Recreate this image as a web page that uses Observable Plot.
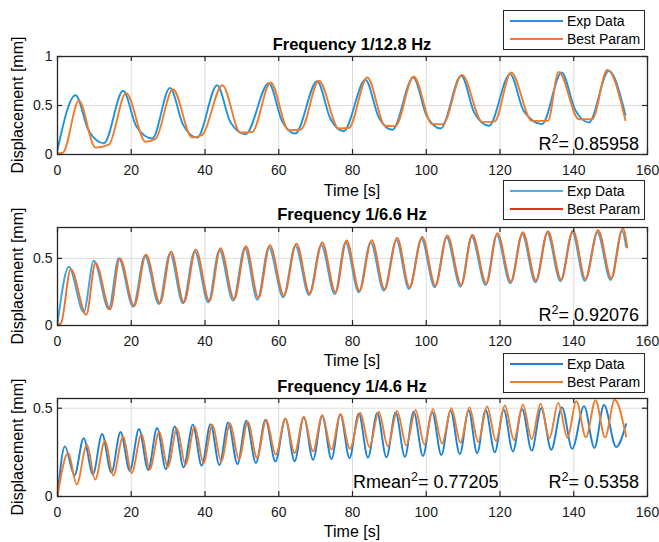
<!DOCTYPE html>
<html><head><meta charset="utf-8">
<script src="https://cdn.jsdelivr.net/npm/d3@7"></script>
<script src="https://cdn.jsdelivr.net/npm/@observablehq/plot@0.6"></script>
<style>
body{margin:0;background:#fff;}
#root{position:relative;width:659px;height:542px;overflow:hidden;background:#fff;font-family:"Liberation Sans",Arial,sans-serif;color:#000}
#root svg{position:absolute;left:0;overflow:visible}
.abs{position:absolute;white-space:nowrap}
.title{font-weight:bold;font-size:16.5px;line-height:16px;transform:translateX(-50%)}
.xl{font-size:16px;line-height:16px;transform:translateX(-50%)}
.yl{font-size:16px;line-height:16px;transform:translate(-50%,-50%) rotate(-90deg)}
.r2{font-size:18px;line-height:18px}
.r2 sup{font-size:12.5px;line-height:0;vertical-align:7px}
.leg{border:1px solid #262626;background:#fff;box-sizing:border-box}
.legtxt{font-size:14px;line-height:14px}
</style></head>
<body><div id="root"></div>
<script>
// ---------- data ----------
const xTicks = [0, 20, 40, 60, 80, 100, 120, 140, 160];
const yTicks1 = [0, 0.5, 1];
const yTicks2 = [0, 0.5];
const yTicks3 = [0, 0.5];
const titles = ["Frequency 1/12.8 Hz", "Frequency 1/6.6 Hz", "Frequency 1/4.6 Hz"];
const seriesNames = ["Exp Data", "Best Param"];
const r2Labels = ["0.85958", "0.92076", "0.5358"];
const rmeanLabel = "0.77205";

// Panel 1 (1/12.8 Hz): turning points and knees
const p1ExpT = [0, 4.9, 8.5, 12.6, 17.8, 21.4, 25.7, 30.5, 34.1, 37.9, 43.3, 46.9, 51, 57.3, 60.9, 64.5, 70.4, 74.0, 77.6, 83.5, 87.1, 90.8, 96.5, 100.1, 103.9, 109.5, 113.1, 117, 122.7, 126.5, 131.4, 136.7, 140.4, 144.1, 149.5, 154];
const p1ExpV = [0.05, 0.605, 0.24, 0.115, 0.65, 0.285, 0.163, 0.68, 0.3, 0.173, 0.707, 0.33, 0.207, 0.727, 0.34, 0.214, 0.748, 0.365, 0.238, 0.762, 0.38, 0.252, 0.786, 0.395, 0.265, 0.803, 0.42, 0.293, 0.82, 0.44, 0.31, 0.837, 0.455, 0.327, 0.854, 0.405];
const p1FitT = [0, 1.5, 5.8, 10.3, 13.9, 18.6, 23.9, 26.6, 31.3, 36.5, 39.2, 44.7, 49.6, 52.8, 57.8, 62.7, 66, 70.9, 76.3, 79, 84, 88.9, 91.6, 96.6, 101.6, 104.5, 109.7, 115.2, 118.5, 123, 128.7, 133, 135.9, 141.4, 145, 149.1, 154];
const p1FitV = [0.01, 0.02, 0.548, 0.07, 0.1, 0.626, 0.13, 0.16, 0.666, 0.173, 0.197, 0.707, 0.224, 0.23, 0.735, 0.248, 0.255, 0.752, 0.265, 0.27, 0.786, 0.293, 0.29, 0.796, 0.31, 0.31, 0.813, 0.333, 0.335, 0.837, 0.343, 0.345, 0.843, 0.36, 0.36, 0.864, 0.35];

// Panel 2 (1/6.6 Hz)
const p2ExpT = [0, 3.07, 7.1, 9.85, 13.9, 16.6, 20.5, 23.7, 27.5, 30.5, 34, 37.2, 40.9, 43.9, 47.6, 50.8, 54.2, 57.3, 61.2, 64.5, 68.2, 71.5, 75.2, 78.1, 81.7, 84.9, 88.5, 91.9, 95.3, 98.7, 102.3, 105.5, 109.3, 112.3, 116.1, 119.1, 122.8, 126, 129.6, 132.8, 136.4, 139.6, 143, 146.4, 150, 153.1, 154.2];
const p2ExpV = [0.01, 0.438, 0.1, 0.482, 0.123, 0.502, 0.14, 0.52, 0.16, 0.537, 0.165, 0.552, 0.172, 0.562, 0.185, 0.577, 0.192, 0.582, 0.21, 0.594, 0.227, 0.6, 0.234, 0.619, 0.247, 0.619, 0.259, 0.636, 0.272, 0.644, 0.284, 0.656, 0.289, 0.661, 0.301, 0.673, 0.314, 0.681, 0.321, 0.688, 0.329, 0.693, 0.333, 0.693, 0.339, 0.705, 0.586];
const p2FitT = [0, 1.0, 3.6, 7.8, 10.3, 14.3, 16.9, 20.8, 24.0, 27.8, 30.8, 34.3, 37.5, 41.2, 44.2, 47.9, 51.1, 54.5, 57.6, 61.4, 64.8, 68.4, 71.8, 75.4, 78.4, 81.9, 85.2, 88.7, 92.1, 95.5, 98.9, 102.5, 105.7, 109.5, 112.5, 116.3, 119.3, 123.0, 126.2, 129.8, 133.0, 136.6, 139.8, 143.2, 146.6, 150.2, 153.3, 154.5];
const p2FitV = [0.0, 0.02, 0.42, 0.08, 0.465, 0.12, 0.5, 0.145, 0.528, 0.165, 0.55, 0.172, 0.565, 0.182, 0.575, 0.195, 0.59, 0.205, 0.598, 0.222, 0.61, 0.238, 0.618, 0.246, 0.633, 0.258, 0.636, 0.27, 0.652, 0.283, 0.66, 0.296, 0.67, 0.302, 0.676, 0.313, 0.688, 0.326, 0.695, 0.333, 0.702, 0.341, 0.708, 0.345, 0.71, 0.351, 0.725, 0.58];

// Panel 3 (1/4.6 Hz)
const p3ExpT = [0, 2.0, 4.6, 7.1, 9.6, 12.1, 14.6, 17.1, 19.6, 22.1, 24.6, 27.0, 29.4, 31.8, 34.2, 36.7, 39.1, 41.5, 43.9, 46.3, 48.8, 51.2, 53.8, 56.4, 59.1, 61.8, 64.3, 66.8, 69.3, 71.8, 74.3, 76.7, 79.2, 81.7, 84.2, 86.7, 89.2, 91.7, 94.2, 96.6, 99.1, 101.6, 104.1, 106.6, 109.1, 111.5, 113.8, 116.1, 118.6, 121.0, 123.5, 126.0, 128.6, 131.2, 133.9, 136.8, 139.6, 142.8, 145.6, 148.2, 151.5, 154.2];
const p3ExpV = [0.0, 0.284, 0.12, 0.33, 0.125, 0.354, 0.135, 0.365, 0.145, 0.382, 0.15, 0.388, 0.155, 0.397, 0.165, 0.407, 0.175, 0.41, 0.178, 0.42, 0.183, 0.429, 0.19, 0.435, 0.198, 0.44, 0.2, 0.448, 0.208, 0.457, 0.212, 0.463, 0.218, 0.47, 0.22, 0.473, 0.222, 0.476, 0.225, 0.48, 0.23, 0.478, 0.235, 0.485, 0.24, 0.487, 0.245, 0.49, 0.25, 0.492, 0.255, 0.495, 0.26, 0.5, 0.265, 0.505, 0.27, 0.512, 0.275, 0.518, 0.28, 0.41];
const p3FitT = [0, 2.9, 5.2, 8.0, 10.2, 12.9, 15.1, 17.8, 20.1, 22.8, 25.0, 27.6, 29.9, 32.4, 34.7, 37.2, 39.6, 42.0, 44.4, 46.8, 49.2, 51.6, 54.1, 56.6, 59.2, 61.8, 64.3, 66.8, 69.3, 71.8, 74.3, 76.7, 79.3, 82.1, 84.6, 87.1, 89.6, 92.1, 94.6, 97.1, 99.5, 101.8, 104.3, 106.8, 109.3, 111.7, 114.1, 116.5, 118.9, 121.3, 123.8, 126.2, 128.6, 131.0, 133.4, 135.8, 138.3, 140.7, 143.3, 145.9, 148.5, 151.1, 154.2];
const p3FitV = [0.0, 0.247, 0.068, 0.294, 0.096, 0.316, 0.118, 0.34, 0.133, 0.353, 0.153, 0.367, 0.166, 0.386, 0.18, 0.395, 0.19, 0.405, 0.2, 0.414, 0.21, 0.424, 0.218, 0.433, 0.237, 0.442, 0.246, 0.452, 0.256, 0.461, 0.266, 0.467, 0.27, 0.473, 0.28, 0.48, 0.285, 0.485, 0.29, 0.49, 0.295, 0.495, 0.3, 0.5, 0.305, 0.505, 0.31, 0.51, 0.315, 0.515, 0.32, 0.52, 0.325, 0.525, 0.33, 0.53, 0.332, 0.54, 0.335, 0.545, 0.335, 0.548, 0.34];

// ---------- build ----------
const root = document.getElementById("root");
const W = 659, mL = 57, mR = 12, mT = 10, mB = 45, boxH = 98, boxW = W - mL - mR;
const toRows = (T, V) => T.map((t, i) => ({t, v: V[i]}));

const panels = [
  {top: 56, ymax: 1, yTicks: yTicks1, exp: toRows(p1ExpT, p1ExpV), fit: toRows(p1FitT, p1FitV),
   expC: "#1f93dc", fitC: "#ef7b2c", legExpC: "#1f93dc", legFitC: "#ef7b2c"},
  {top: 227, ymax: 0.73, yTicks: yTicks2, exp: toRows(p2ExpT, p2ExpV), fit: toRows(p2FitT, p2FitV),
   expC: "#3ea6e4", fitC: "#ec6f2a", legExpC: "#4cb0e6", legFitC: "#e2321f"},
  {top: 398, ymax: 0.555, yTicks: yTicks3, exp: toRows(p3ExpT, p3ExpV), fit: toRows(p3FitT, p3FitV),
   expC: "#1c82d4", fitC: "#ef7b2c", legExpC: "#1c7fd2", legFitC: "#ef7b2c"}
];

const font = '"Liberation Sans", Arial, sans-serif';
panels.forEach((p, i) => {
  const frameC = "#262626";
  const svg = Plot.plot({
    width: W, height: boxH + mT + mB,
    marginLeft: mL, marginRight: mR, marginTop: mT, marginBottom: mB,
    style: {fontFamily: font, fontSize: "14px", background: "transparent", color: "#1a1a1a"},
    x: {domain: [0, 160]},
    y: {domain: [0, p.ymax]},
    marks: [
      Plot.gridX(xTicks, {stroke: "#dcdcdc", strokeOpacity: 1, strokeWidth: 1}),
      Plot.gridY(p.yTicks, {stroke: "#dcdcdc", strokeOpacity: 1, strokeWidth: 1}),
      Plot.line(p.exp, {x: "t", y: "v", stroke: p.expC, strokeWidth: 1.9, curve: "monotone-x", clip: true}),
      Plot.line(p.fit, {x: "t", y: "v", stroke: p.fitC, strokeWidth: 1.9, curve: "monotone-x", clip: true}),
      Plot.tickX(xTicks, {x: d => d, insetTop: boxH - 5, stroke: frameC, strokeWidth: 1.2}),
      Plot.tickX(xTicks, {x: d => d, insetBottom: boxH - 5, stroke: frameC, strokeWidth: 1.2}),
      Plot.tickY(p.yTicks, {y: d => d, insetRight: boxW - 5, stroke: frameC, strokeWidth: 1.2}),
      Plot.tickY(p.yTicks, {y: d => d, insetLeft: boxW - 5, stroke: frameC, strokeWidth: 1.2}),
      Plot.frame({stroke: frameC, strokeWidth: 1.3}),
      Plot.axisX({ticks: xTicks, tickSize: 0, tickPadding: 11, label: null, tickFormat: d => String(d), fontSize: 14}),
      Plot.axisY({ticks: p.yTicks, tickSize: 0, tickPadding: 5, label: null, tickFormat: d => String(d), fontSize: 14})
    ]
  });
  svg.style.top = (p.top - mT) + "px";
  root.appendChild(svg);
});

function addDiv(cls, html, css) {
  const d = document.createElement("div");
  d.className = "abs " + cls;
  d.innerHTML = html;
  Object.assign(d.style, css);
  root.appendChild(d);
  return d;
}

const titleTops = [36, 206, 378];
const xlTops = [183, 353, 524];
const legTops = [10, 180, 353];
const r2Tops = [135, 306, 473];
panels.forEach((p, i) => {
  addDiv("title", titles[i], {left: "352px", top: titleTops[i] + "px"});
  addDiv("xl", "Time [s]", {left: "352px", top: xlTops[i] + "px"});
  addDiv("yl", "Displacement [mm]", {left: "18px", top: (p.top + boxH / 2) + "px"});
  const lt = legTops[i];
  addDiv("leg", "", {left: "503px", top: lt + "px", width: "142px", height: "40px"});
  [[seriesNames[0], p.legExpC, 11], [seriesNames[1], p.legFitC, 29]].forEach(([name, c, dy]) => {
    addDiv("", "", {left: "510px", top: (lt + dy - 1) + "px", width: "53px", height: "2px", background: c});
    addDiv("legtxt", name, {left: "567px", top: (lt + dy - 7) + "px"});
  });
  addDiv("r2", "R<sup>2</sup>= " + r2Labels[i], {right: "20px", top: r2Tops[i] + "px"});
});
addDiv("r2", "Rmean<sup>2</sup>= " + rmeanLabel, {left: "353px", top: r2Tops[2] + "px"});
</script></body></html>
